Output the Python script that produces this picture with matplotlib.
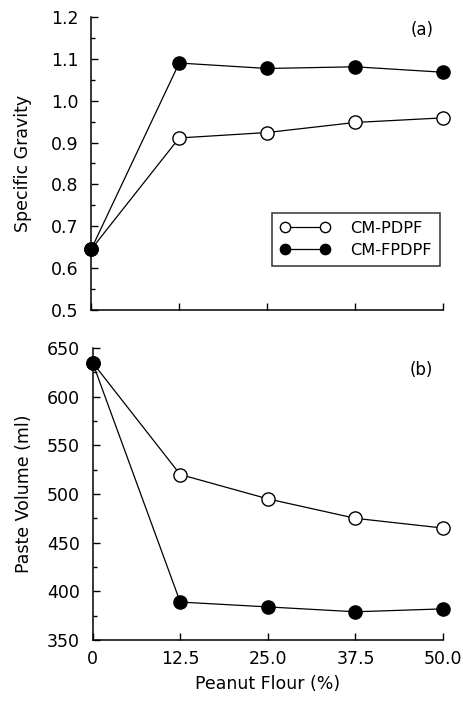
import matplotlib
matplotlib.use("Agg")
import matplotlib.pyplot as plt
from matplotlib.ticker import MultipleLocator

plt.rcParams['font.family'] = ['DejaVu Sans']

flour = [0, 12.5, 25.0, 37.5, 50.0]
xtick_labels = ['0', '12.5', '25.0', '37.5', '50.0']

sg_pdpf = [0.645, 0.911, 0.924, 0.948, 0.959]
sg_fpdpf = [0.645, 1.090, 1.077, 1.081, 1.068]

pv_pdpf = [635, 520, 495, 475, 465]
pv_fpdpf = [635, 389, 384, 379, 382]

fig = plt.figure(figsize=(4.63, 7.02), dpi=100)
ax1 = fig.add_axes([0.197, 0.5584, 0.760, 0.4174])
ax2 = fig.add_axes([0.200, 0.0883, 0.757, 0.4160])

lw = 0.9
ms = 9.5

def style(ax):
    for s in ['top', 'right']:
        ax.spines[s].set_visible(False)
    for s in ['left', 'bottom']:
        ax.spines[s].set_linewidth(1.1)
    ax.tick_params(direction='in', length=5, width=1, labelsize=12.5, pad=9)
    ax.tick_params(which='minor', direction='in', length=3, width=1)
    ax.set_xlim(0, 50)
    ax.set_xticks(flour)

# Top panel
ax1.plot(flour, sg_pdpf, '-o', color='black', lw=lw, ms=ms, mfc='white', mec='black', mew=1.0,
         label='CM-PDPF', clip_on=False, zorder=3)
ax1.plot(flour, sg_fpdpf, '-o', color='black', lw=lw, ms=ms, mfc='black', mec='black',
         label='CM-FPDPF', clip_on=False, zorder=4)
style(ax1)
ax1.set_ylim(0.5, 1.2)
ax1.yaxis.set_major_locator(MultipleLocator(0.1))
ax1.yaxis.set_minor_locator(MultipleLocator(0.05))
ax1.set_yticklabels([f'{v:.1f}' for v in ax1.get_yticks()])
ax1.set_xticklabels([])
ax1.set_ylabel('Specific Gravity', fontsize=12.5, labelpad=14)
ax1.text(0.972, 0.956, '(a)', transform=ax1.transAxes, fontsize=12, ha='right', va='center')
leg = ax1.legend(loc='upper left', bbox_to_anchor=(0.514, 0.331), borderaxespad=0,
                 numpoints=2, fontsize=11.6, markerscale=0.78,
                 frameon=True, fancybox=False, edgecolor='black', handlelength=3.1,
                 borderpad=0.5, labelspacing=0.42, handletextpad=1.25)
leg.get_frame().set_linewidth(1.1)

# Bottom panel
ax2.plot(flour, pv_pdpf, '-o', color='black', lw=lw, ms=ms, mfc='white', mec='black', mew=1.0,
         clip_on=False, zorder=3)
ax2.plot(flour, pv_fpdpf, '-o', color='black', lw=lw, ms=ms, mfc='black', mec='black',
         clip_on=False, zorder=4)
style(ax2)
ax2.set_ylim(350, 650)
ax2.yaxis.set_major_locator(MultipleLocator(50))
ax2.yaxis.set_minor_locator(MultipleLocator(25))
ax2.set_xticklabels(xtick_labels)
ax2.tick_params(axis='x', pad=7)
ax2.set_ylabel('Paste Volume (ml)', fontsize=12.5, labelpad=10)
ax2.set_xlabel('Peanut Flour (%)', fontsize=12.5, labelpad=5)
ax2.text(0.972, 0.925, '(b)', transform=ax2.transAxes, fontsize=12, ha='right', va='center')

fig.savefig('out.png', dpi=100)
